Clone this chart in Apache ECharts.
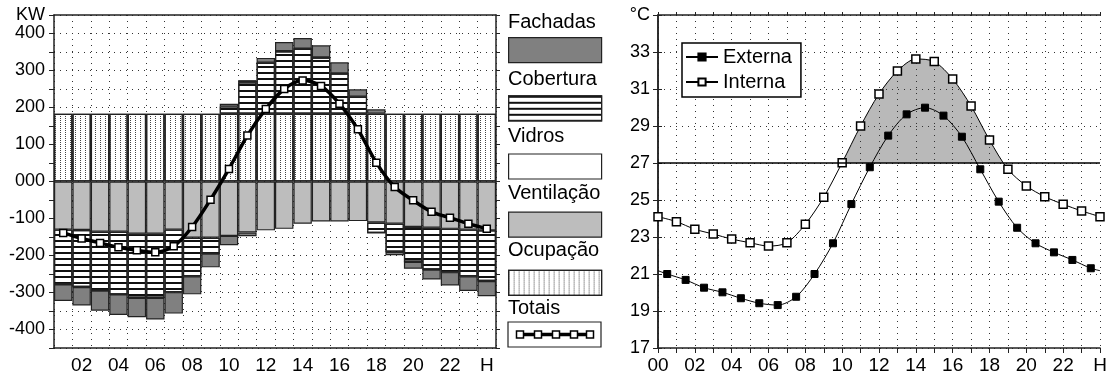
<!DOCTYPE html>
<html>
<head>
<meta charset="utf-8">
<script src="https://cdn.jsdelivr.net/npm/echarts@6/dist/echarts.min.js"></script>
<style>
html,body{margin:0;padding:0;background:#fff;}
#chart{width:1109px;height:380px;}
</style>
</head>
<body>
<div id="chart"></div>
<script>
// cargas (KW) por hora
var hours = ['01','02','03','04','05','06','07','08','09','10','11','12','13','14','15','16','17','18','19','20','21','22','23','24'];
var ocupacao   = [183,183,183,183,183,183,183,183,183,183,183,183,183,183,183,183,183,183,183,183,183,183,183,183];
var ventilacao = [-130,-131,-136,-136,-141,-141,-130,-152,-152,-147,-138,-132,-128,-114,-108,-108,-107,-111,-114,-123,-125,-128,-130,-132];
var cobertura  = [-148,-154,-159,-169,-173,-173,-169,-104,-43,20,85,138,169,176,152,109,46,-28,-76,-94,-113,-117,-126,-137];
var vidros     = [0,0,0,0,0,0,0,0,0,7,6,0,0,0,0,0,0,0,0,0,0,0,0,0];
var fachadas   = [-45,-50,-54,-56,-53,-59,-58,-49,-37,-25,-10,13,25,29,33,30,20,12,-9,-19,-27,-36,-40,-41];
var totais     = [-139,-154,-166,-178,-186,-191,-175,-123,-49,34,124,196,250,273,258,210,141,51,-15,-51,-82,-98,-114,-128];

// temperaturas (°C)
var internaHours = [0,1,2,3,4,5,6,7,8,9,10,11,12,13,14,15,16,17,18,19,20,21,22,23,24];
var internaTemps = [24.1,23.83,23.42,23.16,22.89,22.69,22.51,22.69,23.69,25.15,27.02,29.0,30.73,31.97,32.62,32.48,31.54,30.08,28.24,26.66,25.76,25.18,24.77,24.41,24.1];
var externaHours = [0,0.5,1.5,2.5,3.5,4.5,5.5,6.5,7.5,8.5,9.5,10.5,11.5,12.5,13.5,14.5,15.5,16.5,17.5,18.5,19.5,20.5,21.5,22.5,23.5,24];
var externaTemps = [21.18,21.0,20.68,20.26,20.01,19.69,19.42,19.32,19.77,21.0,22.66,24.78,26.77,28.48,29.63,29.99,29.56,28.42,26.66,24.91,23.5,22.66,22.17,21.76,21.31,21.18];
var conforto = 27;
var tMin = 17, tMax = 35;

var legendNames = ['Fachadas','Cobertura','Vidros','Ventilação','Ocupação','Totais'];

var font = 'Liberation Sans, Arial, sans-serif';
var ink = '#222';
var dotted = {show:true, lineStyle:{color:'#333', type:[1,5], width:1}};
var gTop = 15, gH = 333;

var chart = echarts.init(document.getElementById('chart'), null, {renderer:'canvas'});

function barSeries(name, data, color, decal){
	var s = {
		name:name, type:'bar', stack:'carga', data:data,
		xAxisIndex:0, yAxisIndex:0, barCategoryGap:'0%',
		itemStyle:{color:color, borderColor:ink, borderWidth:1.2},
		emphasis:{disabled:true}
	};
	if(decal) s.itemStyle.decal = decal;
	return s;
}

var externaData = externaHours.map(function(h,i){
	var item = {value:[h, externaTemps[i]]};
	if(i==0 || i==externaHours.length-1) item.symbol = 'none';
	return item;
});
var internaData = internaHours.map(function(h,i){ return [h, internaTemps[i]]; });

// cinza só acima de 27 °C
var cut = (tMax - conforto) / (tMax - tMin);
var sombra = {type:'linear', global:true, x:0, y:gTop, x2:0, y2:gTop + gH, colorStops:[
	{offset:0, color:'#b9b9b9'}, {offset:cut, color:'#b9b9b9'},
	{offset:cut, color:'rgba(255,255,255,0)'}, {offset:1, color:'rgba(255,255,255,0)'}
]};

// amostra "Totais" da legenda
var totaisBox = [{type:'rect', shape:{x:508, y:322, width:93, height:25}, silent:true,
	style:{fill:'#fff', stroke:ink, lineWidth:1.2}},
	{type:'line', shape:{x1:516, y1:334.5, x2:593, y2:334.5}, silent:true,
	style:{stroke:'#000', lineWidth:3.5}}];
[520, 538, 556, 574, 590].forEach(function(x){
	totaisBox.push({type:'rect', shape:{x:x-3.5, y:331, width:7, height:7}, silent:true,
		style:{fill:'#fff', stroke:'#000', lineWidth:1.5}});
});

var option = {
	animation:false,
	backgroundColor:'#fff',
	textStyle:{fontFamily:font, color:'#000'},
	grid:[
		{left:54, top:gTop, width:442, height:gH, outerBoundsMode:'none'},
		{left:658, top:gTop, width:442, height:gH, outerBoundsMode:'none'}
	],
	legend:[
		{
			data:legendNames.slice(0,5), orient:'vertical', left:508, top:37, padding:0,
			itemWidth:93, itemHeight:25, itemGap:32, icon:'rect',
			formatter:function(){ return ''; },
			textStyle:{fontSize:1}, selectedMode:false,
			itemStyle:{borderColor:ink, borderWidth:1.2}
		},
		{
			data:['Externa','Interna'], orient:'vertical', left:682, top:43,
			backgroundColor:'#fff', borderColor:'#000', borderWidth:1.5,
			padding:[4,9,5,3], itemGap:5, itemWidth:32, itemHeight:9,
			selectedMode:false,
			textStyle:{fontSize:20, fontFamily:font, color:'#000'}
		}
	],
	graphic:legendNames.map(function(n,i){
		return {type:'text', x:508, y:22 + i*57.2, silent:true,
			style:{text:n, fill:'#000', font:'20px ' + font, verticalAlign:'middle'}};
	}).concat(totaisBox),
	xAxis:[
		{
			type:'category', gridIndex:0, data:hours, position:'bottom', boundaryGap:true,
			axisLine:{onZero:false, lineStyle:{color:ink, width:1.5}},
			axisTick:{interval:0, length:5, lineStyle:{color:ink}},
			axisLabel:{interval:0, margin:8, fontSize:19, color:'#000', fontFamily:font,
				formatter:function(v,i){ return i%2==1 ? (i==23 ? 'H' : v) : ''; }},
			splitLine:{show:true, interval:0, lineStyle:dotted.lineStyle}
		},
		{
			type:'category', gridIndex:0, data:hours, position:'top', boundaryGap:true,
			axisLine:{onZero:false, lineStyle:{color:ink, width:1.5}},
			axisTick:{interval:0, length:3, lineStyle:{color:ink}},
			axisLabel:{show:false}, splitLine:{show:false}
		},
		{
			type:'value', gridIndex:1, min:0, max:24, interval:1, position:'bottom', z:1,
			axisLine:{onZero:false, lineStyle:{color:ink, width:1.5}},
			axisTick:{length:5, lineStyle:{color:ink}},
			axisLabel:{margin:8, fontSize:19, color:'#000', fontFamily:font, showMinLabel:true, showMaxLabel:true,
				formatter:function(v){ if(v%2) return ''; if(v==24) return 'H'; return (v<10?'0':'') + v; }},
			splitLine:dotted
		},
		{
			type:'value', gridIndex:1, min:0, max:24, interval:1, position:'top', z:1,
			axisLine:{onZero:false, lineStyle:{color:ink, width:1.5}},
			axisTick:{length:3, lineStyle:{color:ink}},
			axisLabel:{show:false}, splitLine:{show:false}
		}
	],
	yAxis:[
		{
			type:'value', gridIndex:0, min:-450, max:450, interval:50, position:'left',
			axisLine:{show:true, lineStyle:{color:ink, width:1.5}},
			axisTick:{show:true, length:5, lineStyle:{color:ink}},
			axisLabel:{margin:9, fontSize:18, color:'#000', fontFamily:font, showMinLabel:true, showMaxLabel:true,
				formatter:function(v){ if(v==450) return 'KW'; if(v%100) return ''; return v==0 ? '000' : String(v); }},
			splitLine:dotted
		},
		{
			type:'value', gridIndex:0, min:-450, max:450, interval:50, position:'right',
			axisLine:{show:true, lineStyle:{color:ink, width:1.5}},
			axisTick:{show:true, length:4, lineStyle:{color:ink}},
			axisLabel:{show:false}, splitLine:{show:false}
		},
		{
			type:'value', gridIndex:1, min:tMin, max:tMax, interval:2, position:'left', z:1,
			axisLine:{show:true, lineStyle:{color:ink, width:1.5}},
			axisTick:{show:true, length:5, lineStyle:{color:ink}},
			axisLabel:{margin:8, fontSize:18, color:'#000', fontFamily:font, showMinLabel:true, showMaxLabel:true,
				formatter:function(v){ return v==tMax ? '°C' : String(v); }},
			splitLine:dotted
		},
		{
			type:'value', gridIndex:1, min:tMin, max:tMax, interval:2, position:'right', z:1,
			axisLine:{show:true, lineStyle:{color:ink, width:1.5}},
			axisTick:{show:true, length:4, lineStyle:{color:ink}},
			axisLabel:{show:false}, splitLine:{show:false}
		}
	],
	series:[
		barSeries('Ocupação', ocupacao, '#fff', {symbol:'rect', symbolSize:1, dashArrayX:[1,3.5], dashArrayY:[1,1], color:'#444'}),
		barSeries('Ventilação', ventilacao, '#bdbdbd'),
		barSeries('Cobertura', cobertura, '#fff', {symbol:'rect', symbolSize:1, dashArrayX:[1,0], dashArrayY:[1.5,3.5], color:'#111'}),
		barSeries('Vidros', vidros, '#fff'),
		barSeries('Fachadas', fachadas, '#808080'),
		{
			name:'Totais', type:'line', data:totais, xAxisIndex:0, yAxisIndex:0,
			smooth:0.3, symbol:'rect', symbolSize:7, z:5,
			lineStyle:{color:'#000', width:3.5},
			itemStyle:{color:'#fff', borderColor:'#000', borderWidth:1.5},
			emphasis:{disabled:true}
		},
		{
			type:'line', data:internaData, xAxisIndex:2, yAxisIndex:2,
			smooth:0.3, symbol:'none', z:0, silent:true,
			lineStyle:{width:0, opacity:0},
			areaStyle:{origin:conforto, opacity:1, color:sombra}
		},
		{
			name:'Externa', type:'line', data:externaData, xAxisIndex:2, yAxisIndex:2,
			smooth:0.3, symbol:'rect', symbolSize:7, z:3,
			lineStyle:{color:'#000', width:1},
			itemStyle:{color:'#000', borderColor:'#000', borderWidth:1},
			emphasis:{disabled:true},
			markLine:{silent:true, symbol:'none', label:{show:false},
				lineStyle:{color:'#000', type:'solid', width:1.5},
				data:[{yAxis:conforto}]}
		},
		{
			name:'Interna', type:'line', data:internaData, xAxisIndex:2, yAxisIndex:2,
			smooth:0.3, symbol:'rect', symbolSize:8, z:4,
			lineStyle:{color:'#000', width:1},
			itemStyle:{color:'#fff', borderColor:'#000', borderWidth:1.5},
			emphasis:{disabled:true}
		}
	]
};
chart.setOption(option);
</script>
</body>
</html>
